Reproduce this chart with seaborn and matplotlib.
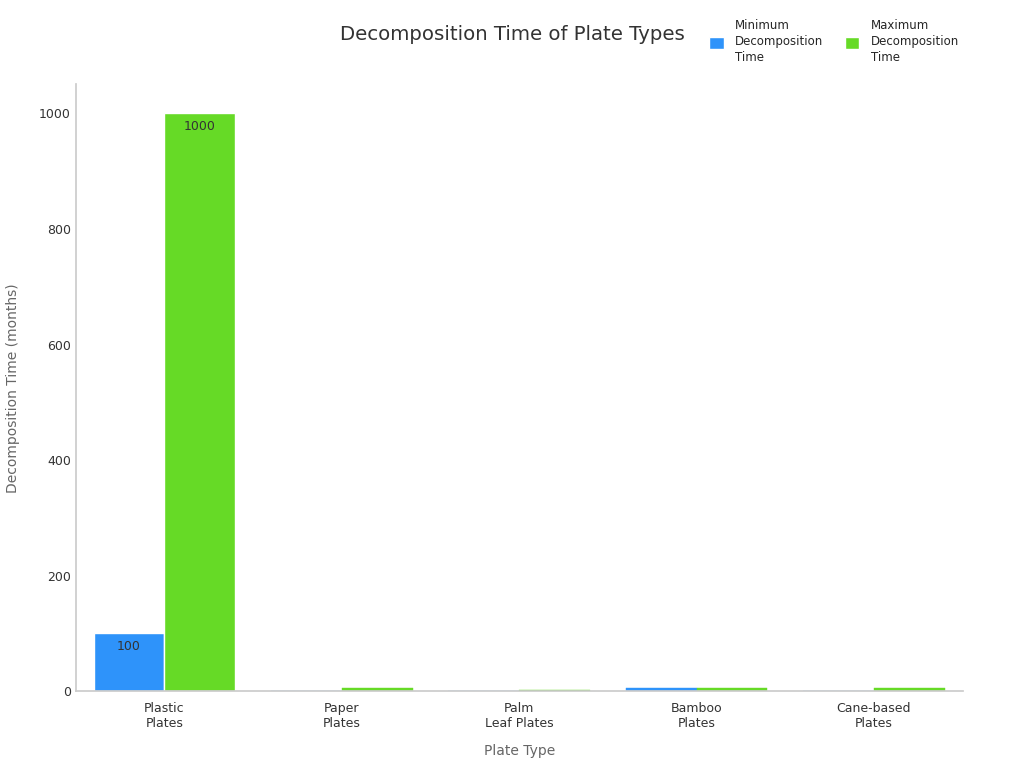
import matplotlib
matplotlib.use("Agg")
import matplotlib.pyplot as plt
import seaborn as sns
import pandas as pd

categories = ["Plastic\nPlates", "Paper\nPlates", "Palm\nLeaf Plates", "Bamboo\nPlates", "Cane-based\nPlates"]
min_time = [100, 1, 1, 6, 1]
max_time = [1000, 6, 2, 6, 6]
series = ["Minimum\nDecomposition\nTime", "Maximum\nDecomposition\nTime"]
colors = ["#2E93FA", "#66DA26"]

df = pd.DataFrame({
    "Plate Type": categories * 2,
    "Value": min_time + max_time,
    "Series": [series[0]] * len(categories) + [series[1]] * len(categories),
})

sns.set_theme(style="white")
plt.rcParams['font.family'] = ['DejaVu Sans']

fig, ax = plt.subplots(figsize=(10.24, 7.68), dpi=100)
fig.subplots_adjust(left=0.074, right=0.94, top=0.89, bottom=0.1)

sns.barplot(data=df, x="Plate Type", y="Value", hue="Series", palette=colors,
            edgecolor="white", linewidth=1, width=0.8, ax=ax, saturation=1)

for cont in ax.containers:
    for patch, v in zip(cont.patches, cont.datavalues):
        if v < 50:
            patch.set_edgecolor(patch.get_facecolor())
            patch.set_linewidth(0.3)
    labels = [f"{int(v)}" if v >= 50 else "" for v in cont.datavalues]
    ax.bar_label(cont, labels=labels, label_type="edge", padding=-14,
                 fontsize=9, color="#333333")

ax.set_ylim(0, 1050)
ax.set_yticks([0, 200, 400, 600, 800, 1000])
ax.tick_params(axis="both", labelsize=9, colors="#333333", length=4)
ax.tick_params(axis="x", color="#999999")
ax.tick_params(axis="y", length=0)
ax.set_xlabel("Plate Type", fontsize=10, color="#666666", labelpad=10)
ax.set_ylabel("Decomposition Time (months)", fontsize=10, color="#666666", labelpad=14)
for s in ["top", "right"]:
    ax.spines[s].set_visible(False)
for s in ["left", "bottom"]:
    ax.spines[s].set_color("#cccccc")
ax.grid(False)

fig.suptitle("Decomposition Time of Plate Types", x=0.5, y=0.968, fontsize=14.2, color="#333333")

leg = ax.legend(loc="upper right", bbox_to_anchor=(1.008, 1.125), ncol=2, frameon=False,
                fontsize=8.5, handlelength=1.2, handleheight=1.2, columnspacing=1.8,
                handletextpad=1.0, title=None)
for t in leg.get_texts():
    t.set_linespacing(1.3)

fig.savefig("out.png", dpi=100)
